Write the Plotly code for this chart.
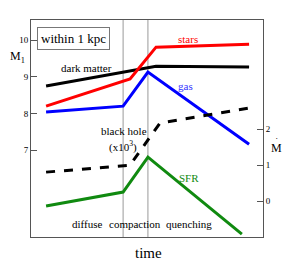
import plotly.graph_objects as go

# data (time in arbitrary units)
t_dm = [0.65, 5.39, 9.4]
dark_matter = [8.75, 9.29, 9.27]
t_stars = [0.65, 4.27, 5.39, 9.4]
stars = [8.2, 8.94, 9.81, 9.89]
t_gas = [0.65, 3.97, 5.04, 9.4]
gas = [8.04, 8.2, 9.13, 7.16]
t_bh = [0.65, 4.27, 5.56, 9.4]
black_hole = [6.4, 6.59, 7.74, 8.15]
t_sfr = [0.65, 3.97, 5.04, 9.09]
sfr = [-0.14, 0.25, 1.22, -0.92]
phase_bounds = [3.97, 5.04]
left_ticks = [7, 8, 9, 10]
right_ticks = [0, 1, 2]

FONT = "Liberation Serif"
fig = go.Figure()
fig.add_trace(go.Scatter(x=t_dm, y=dark_matter, mode="lines", line=dict(color="black", width=3)))
fig.add_trace(go.Scatter(x=t_stars, y=stars, mode="lines", line=dict(color="#ff0000", width=3)))
fig.add_trace(go.Scatter(x=t_gas, y=gas, mode="lines", line=dict(color="#0000ff", width=3)))
fig.add_trace(go.Scatter(x=t_bh, y=black_hole, mode="lines", line=dict(color="black", width=3, dash="dash")))
fig.add_trace(go.Scatter(x=t_sfr, y=sfr, mode="lines", line=dict(color="#108a10", width=3), yaxis="y2"))

for b in phase_bounds:
    fig.add_shape(type="line", x0=b, x1=b, xref="x", y0=0, y1=1, yref="paper",
                  line=dict(color="#999999", width=1), layer="below")

def ann(text, x, y, color="black", size=11, **kw):
    fig.add_annotation(text=text, x=x, y=y, showarrow=False, xanchor="center", yanchor="middle",
                       font=dict(family=FONT, size=size, color=color), **kw)

ann("within 1 kpc", 1.85, 10.05, size=13, bordercolor="#777777", borderwidth=1, borderpad=3)
ann("dark matter", 2.41, 9.24)
ann("stars", 6.77, 10.03, color="#ff0000")
ann("gas", 6.68, 8.75, color="#3333ff")
ann("black hole", 4.0, 7.52)
ann("(x10<sup>3</sup>)", 3.97, 7.11)
ann("SFR", 6.81, 6.24, color="#108a10")
ann("diffuse", 2.42, 4.98)
ann("compaction", 4.5, 4.98)
ann("quenching", 6.81, 4.98)
ann("time", 0.505, -0.074, size=15, xref="paper", yref="paper")
ann("M<sub>1</sub>", -0.057, 0.83, size=12, xref="paper", yref="paper")
ann("M", 1.06, 0.41, size=12, xref="paper", yref="paper")
ann("•", 1.06, 0.455, size=4, xref="paper", yref="paper")

fig.update_layout(
    width=297, height=256,
    margin=dict(l=23, r=42, t=12, b=27, autoexpand=False),
    paper_bgcolor="white", plot_bgcolor="white",
    showlegend=False,
    font=dict(family=FONT, size=9, color="black"),
    xaxis=dict(range=[0, 10], showticklabels=False, ticks="", showgrid=False, zeroline=False,
               showline=True, linecolor="#555555", linewidth=1, mirror=True, automargin=False),
    yaxis=dict(range=[4.63, 10.55], tickvals=left_ticks, ticks="inside", ticklen=6,
               tickcolor="#555555", showgrid=False, zeroline=False, showline=True,
               linecolor="#555555", linewidth=1, tickfont=dict(family=FONT, size=9),
               automargin=False),
    yaxis2=dict(range=[-1.0, 5.03], tickvals=right_ticks, ticks="inside", ticklen=6,
                tickcolor="#555555", overlaying="y", side="right", showgrid=False,
                zeroline=False, showline=True, linecolor="#555555", linewidth=1,
                tickfont=dict(family=FONT, size=9), automargin=False),
)
fig.write_html("out.html")
